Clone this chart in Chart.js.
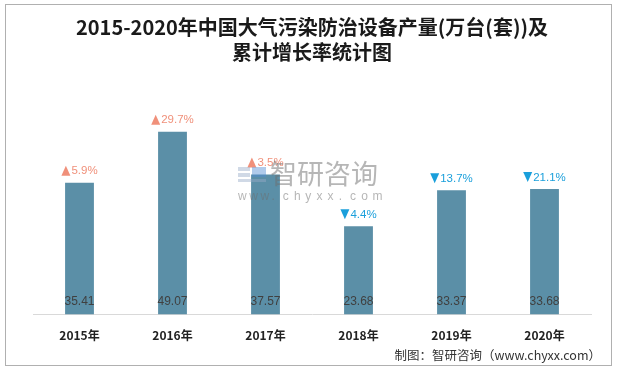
<!DOCTYPE html>
<html>
<head>
<meta charset="utf-8">
<script src="https://cdn.jsdelivr.net/npm/chart.js@4/dist/chart.umd.min.js"></script>
<style>
  html, body { margin: 0; padding: 0; background: #fff; }
  #wrap { position: relative; width: 617px; height: 370px; }
  #frame { position: absolute; left: 5px; top: 4px; width: 605px; height: 360px; border: 1px solid #b0b0b0; pointer-events: none; }
</style>
</head>
<body>
<div id="wrap">
  <canvas id="c" width="617" height="370"></canvas>
  <div id="frame"></div>
</div>
<script>
const categories = ["2015年", "2016年", "2017年", "2018年", "2019年", "2020年"];
const production = [35.41, 49.07, 37.57, 23.68, 33.37, 33.68];
const growthRates = [5.9, 29.7, 3.5, -4.4, -13.7, -21.1];
const titleLines = ["2015-2020年中国大气污染防治设备产量(万台(套))及", "累计增长率统计图"];
const sourceText = "制图：智研咨询（www.chyxx.com）";

const labelPlugin = {
  id: 'labels',
  afterDatasetsDraw(chart) {
    const ctx = chart.ctx;
    const meta = chart.getDatasetMeta(0);
    const yScale = chart.scales.y;
    const base = yScale.getPixelForValue(0);
    ctx.save();
    meta.data.forEach((bar, i) => {
      ctx.font = '12px "Liberation Sans", Arial, sans-serif';
      ctx.fillStyle = '#404040';
      ctx.textAlign = 'center';
      ctx.textBaseline = 'middle';
      ctx.fillText(production[i].toFixed(2), bar.x, base - 13);
      const g = growthRates[i];
      const up = g >= 0;
      const col = up ? '#F0907A' : '#1A9FDB';
      const txt = Math.abs(g).toFixed(1) + '%';
      ctx.font = '11.5px "Liberation Sans", Arial, sans-serif';
      const tw = ctx.measureText(txt).width;
      const triW = 9, gap = 1;
      const total = triW + gap + tw;
      const x0 = bar.x - total / 2;
      const yc = bar.y - 12;
      ctx.fillStyle = col;
      ctx.beginPath();
      if (up) {
        ctx.moveTo(x0, yc + 5); ctx.lineTo(x0 + triW, yc + 5); ctx.lineTo(x0 + triW / 2, yc - 5);
      } else {
        ctx.moveTo(x0, yc - 5); ctx.lineTo(x0 + triW, yc - 5); ctx.lineTo(x0 + triW / 2, yc + 5);
      }
      ctx.closePath();
      ctx.fill();
      ctx.textAlign = 'left';
      ctx.fillText(txt, x0 + triW + gap, yc + 0.5);
    });
    ctx.restore();
  },
  afterDraw(chart) {
    const ctx = chart.ctx;
    ctx.save();
    // watermark
    ctx.fillStyle = 'rgba(150,170,200,0.45)';
    ctx.fillRect(238, 167, 12, 4);
    ctx.fillRect(238, 173, 12, 4);
    ctx.fillRect(238, 179, 28, 3);
    ctx.fillStyle = 'rgba(80,140,210,0.45)';
    ctx.fillRect(252, 167, 14, 10);
    ctx.fillStyle = 'rgba(110,110,110,0.5)';
    ctx.font = '27px "Noto Sans CJK SC", sans-serif';
    ctx.textAlign = 'left';
    ctx.textBaseline = 'middle';
    ctx.fillText('智研咨询', 270, 174);
    ctx.font = '12px "Liberation Sans", Arial, sans-serif';
    let x = 238;
    for (const ch of 'www.chyxx.com') { ctx.fillText(ch, x, 197); x += 11.2; }
    // source
    ctx.fillStyle = '#333';
    ctx.font = '12.5px "Noto Sans CJK SC", sans-serif';
    ctx.textAlign = 'right';
    ctx.fillText(sourceText, 601, 355);
    ctx.restore();
  }
};

new Chart(document.getElementById('c'), {
  type: 'bar',
  data: {
    labels: categories,
    datasets: [{
      data: production,
      backgroundColor: '#5B8FA7',
      borderWidth: 0,
      barPercentage: 0.31,
      categoryPercentage: 1.0
    }]
  },
  options: {
    responsive: false,
    animation: false,
    layout: { padding: { left: 33, right: 26, top: 0, bottom: 13 } },
    plugins: {
      legend: { display: false },
      tooltip: { enabled: false },
      title: {
        display: true,
        text: titleLines,
        color: '#1a1a1a',
        font: { family: '"Noto Sans CJK SC", serif', size: 20, weight: 'bold', lineHeight: 1.25 },
        padding: { top: 15, bottom: 26 }
      }
    },
    scales: {
      x: {
        grid: { display: false, drawTicks: false },
        border: { display: true, color: '#d9d9d9', width: 1 },
        ticks: { color: '#222', padding: 14, font: { family: '"Noto Sans CJK SC", sans-serif', size: 12, weight: 'bold' } }
      },
      y: { display: false, min: 0, max: 60 }
    }
  },
  plugins: [labelPlugin]
});
</script>
</body>
</html>
